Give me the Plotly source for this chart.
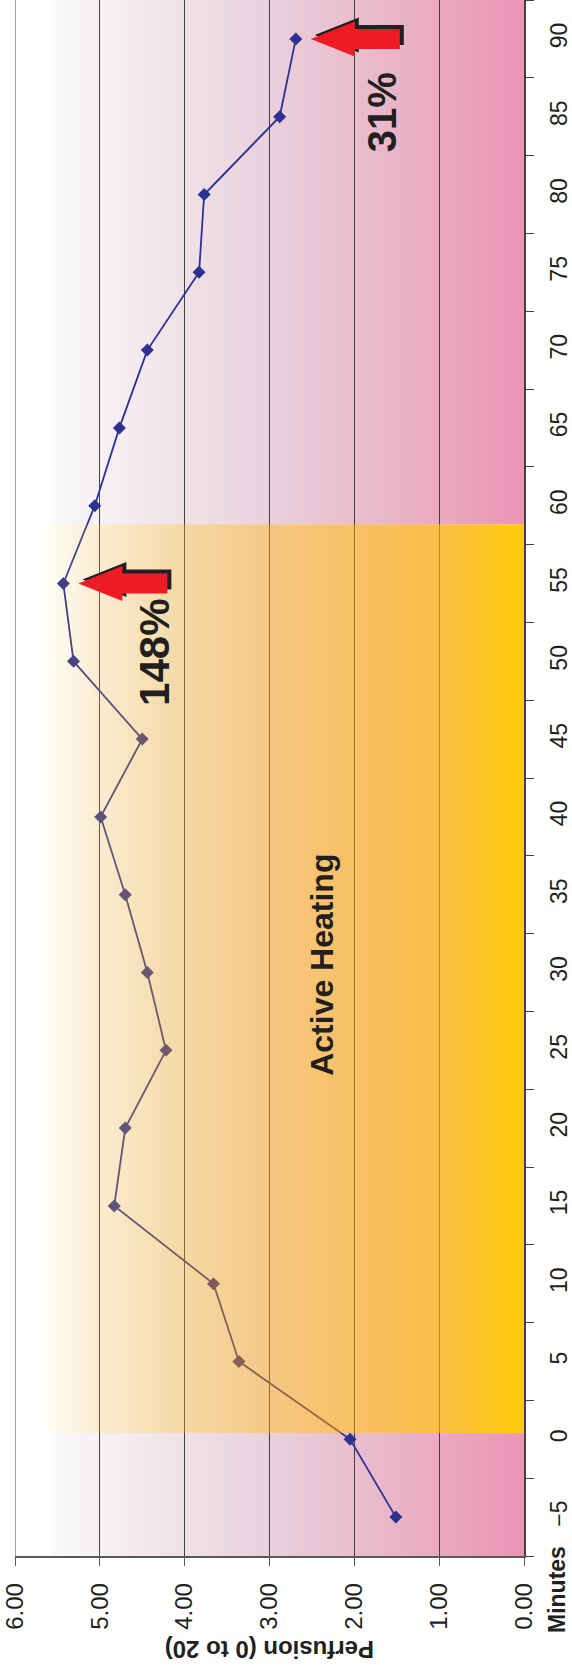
import base64
import struct
import zlib

import plotly.graph_objects as go

# ---------------- data ----------------
minutes = [-5, 0, 5, 10, 15, 20, 25, 30, 35, 40, 45, 50, 55, 60, 65, 70, 75, 80, 85, 90]
perfusion = [1.51, 2.05, 3.36, 3.66, 4.83, 4.70, 4.22, 4.44, 4.70, 4.99,
             4.50, 5.31, 5.43, 5.06, 4.77, 4.44, 3.83, 3.77, 2.88, 2.69]
perfusion_ticks = [0, 1, 2, 3, 4, 5, 6]
minute_boundaries = [m - 2.5 for m in minutes] + [minutes[-1] + 2.5]
heating_start, heating_end = 0.4, 58.8
heating_label = "Active Heating"
callouts = [(55, "148%"), (90, "31%")]

# ---------------- styling ----------------
W, H = 572, 1669
ML, MR, MT, MB = 15, 48, 0, 113
FONT = "Liberation Sans, Arial, sans-serif"
INK = "#231F20"
NAVY = "#2E3192"
GRID = "#404040"


def lerp_stops(stops, f):
    for (f0, v0), (f1, v1) in zip(stops, stops[1:]):
        if f0 <= f <= f1:
            t = 0 if f1 == f0 else (f - f0) / (f1 - f0)
            if isinstance(v0, tuple):
                return tuple(a + (b - a) * t for a, b in zip(v0, v1))
            return v0 + (v1 - v0) * t
    return stops[-1][1]


def png_uri(row, height=2):
    w = len(row)
    line = b"\x00" + bytes(int(round(max(0, min(255, c)))) for px in row for c in px)
    raw = line * height

    def chunk(tag, data):
        return (struct.pack(">I", len(data)) + tag + data +
                struct.pack(">I", zlib.crc32(tag + data) & 0xFFFFFFFF))

    png = (b"\x89PNG\r\n\x1a\n" +
           chunk(b"IHDR", struct.pack(">IIBBBBB", w, height, 8, 6, 0, 0, 0)) +
           chunk(b"IDAT", zlib.compress(raw)) + chunk(b"IEND", b""))
    return "data:image/png;base64," + base64.b64encode(png).decode()


plot_w = W - ML - MR
plot_h = H - MT - MB

pink_stops = [(0, (255, 255, 255)), (0.073, (255, 255, 255)), (0.074, (250, 249, 251)),
              (0.165, (246, 241, 245)), (0.334, (239, 225, 232)), (0.499, (234, 208, 220)),
              (0.664, (233, 190, 207)), (0.833, (234, 170, 193)), (1.0, (235, 148, 181))]
orange_stops = [(0, (255, 255, 255)), (0.04, (255, 255, 255)), (0.073, (255, 252, 244)),
                (0.165, (250, 236, 207)), (0.334, (245, 216, 164)), (0.499, (245, 200, 134)),
                (0.664, (248, 192, 98)), (0.833, (251, 190, 66)), (1.0, (255, 203, 8))]
alpha_stops = [(0, 0.0), (0.073, 0.05), (0.165, 0.25), (0.334, 0.40), (0.499, 0.50),
               (0.664, 0.60), (0.833, 0.72), (1.0, 0.97)]

pink_row, orange_row = [], []
for i in range(plot_w):
    f = (i + 0.5) / plot_w
    r, g, b = lerp_stops(pink_stops, f)
    pink_row.append((r, g, b, 255))
    vis = lerp_stops(orange_stops, f)
    a = max(lerp_stops(alpha_stops, f), 0.001)
    col = [(v - (1 - a) * 255) / a for v in vis]
    orange_row.append((col[0], col[1], col[2], a * 255))

pink_src = png_uri(pink_row)
orange_src = png_uri(orange_row)

x_range = [perfusion_ticks[-1], perfusion_ticks[0]]
y_range = [minute_boundaries[0], minute_boundaries[-1]]

fig = go.Figure()
fig.add_trace(go.Scatter(
    x=perfusion, y=minutes, mode="lines+markers",
    line=dict(color=NAVY, width=1.8),
    marker=dict(symbol="diamond", size=10, color=NAVY),
    hoverinfo="skip", showlegend=False,
))

images = [
    dict(source=pink_src, xref="x", yref="y", x=x_range[0], y=heating_start,
         sizex=x_range[0] - x_range[1], sizey=heating_start - y_range[0],
         xanchor="left", yanchor="top", sizing="stretch", layer="below"),
    dict(source=pink_src, xref="x", yref="y", x=x_range[0], y=y_range[1],
         sizex=x_range[0] - x_range[1], sizey=y_range[1] - heating_end,
         xanchor="left", yanchor="top", sizing="stretch", layer="below"),
    dict(source=orange_src, xref="x", yref="y", x=x_range[0], y=heating_end,
         sizex=x_range[0] - x_range[1], sizey=heating_end - heating_start,
         xanchor="left", yanchor="top", sizing="stretch", layer="above"),
]

arrow_pts = [(15, 0), (59, 17.5), (59, 10), (104, 10), (104, -10), (59, -10), (59, -17.5)]


def arrow_path(dx, dy):
    return "M " + " L ".join(f"{x + dx},{y + dy}" for x, y in arrow_pts) + " Z"


shapes = [dict(type="line", xref="x", yref="y domain", x0=x_range[0], x1=x_range[0],
               y0=0, y1=1, line=dict(color="#A6A6A6", width=2), layer="above")]
for m, _ in callouts:
    p = perfusion[minutes.index(m)]
    for path, color in ((arrow_path(4, 4), INK), (arrow_path(0, 0), "#ED1C24")):
        shapes.append(dict(type="path", xref="x", yref="y", xsizemode="pixel",
                           ysizemode="pixel", xanchor=p, yanchor=m, path=path,
                           fillcolor=color, line=dict(width=0), layer="above"))

annotations = [
    dict(text=f"<b>{heating_label}</b>", x=2.38, y=30.5, xref="x", yref="y",
         xanchor="center", yanchor="middle",
         textangle=-90, showarrow=False, font=dict(family=FONT, size=32, color=INK)),
    dict(text=f"<b>{callouts[0][1]}</b>", x=4.35, y=50.6, xref="x", yref="y",
         xanchor="center", yanchor="middle",
         textangle=-90, showarrow=False, font=dict(family=FONT, size=42, color=INK)),
    dict(text=f"<b>{callouts[1][1]}</b>", x=1.67, y=85.3, xref="x", yref="y",
         xanchor="center", yanchor="middle",
         textangle=-90, showarrow=False, font=dict(family=FONT, size=40, color=INK)),
    dict(text="<b>Minutes</b>", x=(557 - ML) / plot_w, y=(plot_h - 1590) / plot_h,
         xref="paper", yref="paper", xanchor="center", yanchor="middle",
         textangle=-90, showarrow=False,
         font=dict(family=FONT, size=23, color=INK)),
    dict(text="<b>Perfusion (0 to 20)</b>", x=0.5, y=(plot_h - 1649) / plot_h,
         xref="paper", yref="paper", xanchor="center", yanchor="middle",
         textangle=180, showarrow=False,
         font=dict(family=FONT, size=24, color=INK)),
]

fig.update_layout(
    width=W, height=H, margin=dict(l=ML, r=MR, t=MT, b=MB, autoexpand=False),
    paper_bgcolor="white", plot_bgcolor="white",
    images=images, shapes=shapes, annotations=annotations,
    font=dict(family=FONT, color=INK),
    xaxis=dict(range=x_range, tickvals=perfusion_ticks, tickformat=".2f",
               tickangle=-90, ticks="outside", ticklen=8, tickcolor="#595959",
               showgrid=True, gridcolor=GRID, gridwidth=1, zeroline=False,
               showline=True, linecolor="#595959", linewidth=1.5, automargin=False,
               tickfont=dict(family=FONT, size=24, color=INK), ticklabelstandoff=8),
    yaxis=dict(range=y_range, side="right", tickvals=minutes, tickangle=-90,
               ticks="", showgrid=False, zeroline=False, automargin=False,
               showline=True, linecolor="#404040", linewidth=1.5,
               minor=dict(tickvals=minute_boundaries, ticks="outside", ticklen=8,
                          tickcolor="#404040", showgrid=False),
               tickfont=dict(family=FONT, size=23, color=INK), ticklabelstandoff=14),
)

fig.write_html(
    "out.html",
    config={"displayModeBar": False, "staticPlot": True},
    post_script="document.body.style.margin='0';document.body.style.padding='0';"
                "document.documentElement.style.overflow='hidden';",
)
